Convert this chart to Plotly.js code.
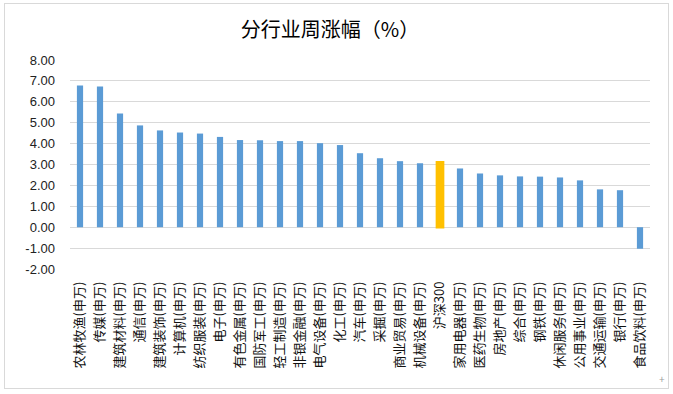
<!DOCTYPE html>
<html>
<head>
<meta charset="utf-8">
<script src="https://cdn.plot.ly/plotly-3.0.1.min.js"></script>
<style>
html,body{margin:0;padding:0;background:#fff;}
#wrap{position:relative;width:673px;height:394px;}
#chart{position:absolute;left:0;top:0;width:673px;height:394px;}
#frame{position:absolute;left:4px;top:3px;width:663px;height:384px;border:1px solid #D9D9D9;pointer-events:none;}
</style>
</head>
<body>
<div id="wrap"><div id="chart"></div><div id="frame"></div></div>
<script>
const categories = [
  "农林牧渔(申万)","传媒(申万)","建筑材料(申万)","通信(申万)","建筑装饰(申万)",
  "计算机(申万)","纺织服装(申万)","电子(申万)","有色金属(申万)","国防军工(申万)",
  "轻工制造(申万)","非银金融(申万)","电气设备(申万)","化工(申万)","汽车(申万)",
  "采掘(申万)","商业贸易(申万)","机械设备(申万)","沪深300","家用电器(申万)",
  "医药生物(申万)","房地产(申万)","综合(申万)","钢铁(申万)","休闲服务(申万)",
  "公用事业(申万)","交通运输(申万)","银行(申万)","食品饮料(申万)"
];
const values = [
  6.78, 6.73, 5.44, 4.87, 4.63,
  4.53, 4.48, 4.32, 4.17, 4.16,
  4.12, 4.12, 4.02, 3.93, 3.54,
  3.30, 3.16, 3.06, 3.11, 2.81,
  2.57, 2.48, 2.43, 2.42, 2.38,
  2.24, 1.81, 1.77, -1.03
];
const highlight = "沪深300";
const yTicks = [-2,-1,0,1,2,3,4,5,6,7,8];

const blue = "#5B9BD5", gold = "#FFC000";
const colors = categories.map(c => c === highlight ? gold : blue);
const lineW = categories.map(c => c === highlight ? 2.5 : 0);

const trace = {
  type: "bar",
  x: categories,
  y: values,
  marker: {color: colors, line: {color: colors, width: lineW}},
  hoverinfo: "x+y"
};

const layout = {
  width: 673, height: 394,
  margin: {l: 70, r: 23, t: 60, b: 125},
  paper_bgcolor: "#fff", plot_bgcolor: "#fff",
  bargap: 0.69,
  showlegend: false,
  title: {
    text: "分行业周涨幅（%）",
    x: 330/673, xanchor: "center", y: 1 - 30/394, yanchor: "middle",
    font: {family: "Noto Sans CJK SC, sans-serif", size: 20, color: "#000"}
  },
  xaxis: {
    type: "category",
    tickangle: -90,
    tickfont: {family: "Noto Sans CJK SC, sans-serif", size: 13, color: "#111"},
    showgrid: false, showline: false, ticks: "",
    ticklabelstandoff: 9,
    fixedrange: true
  },
  yaxis: {
    range: [-2, 8],
    tickvals: yTicks,
    ticktext: yTicks.map(v => v.toFixed(2)),
    tickfont: {family: "Liberation Sans, Arial, sans-serif", size: 13, color: "#222"},
    showgrid: true, gridcolor: "#D9D9D9", gridwidth: 1,
    zeroline: true, zerolinecolor: "#D9D9D9", zerolinewidth: 1,
    showline: false, ticks: "",
    ticklabelstandoff: 14,
    fixedrange: true
  },
  annotations: [{
    text: "+", xref: "paper", yref: "paper", x: 1.03, y: -0.57,
    showarrow: false, font: {size: 10, color: "#999"}
  }]
};

Plotly.newPlot("chart", [trace], layout, {displayModeBar: false, staticPlot: true});
</script>
</body>
</html>
